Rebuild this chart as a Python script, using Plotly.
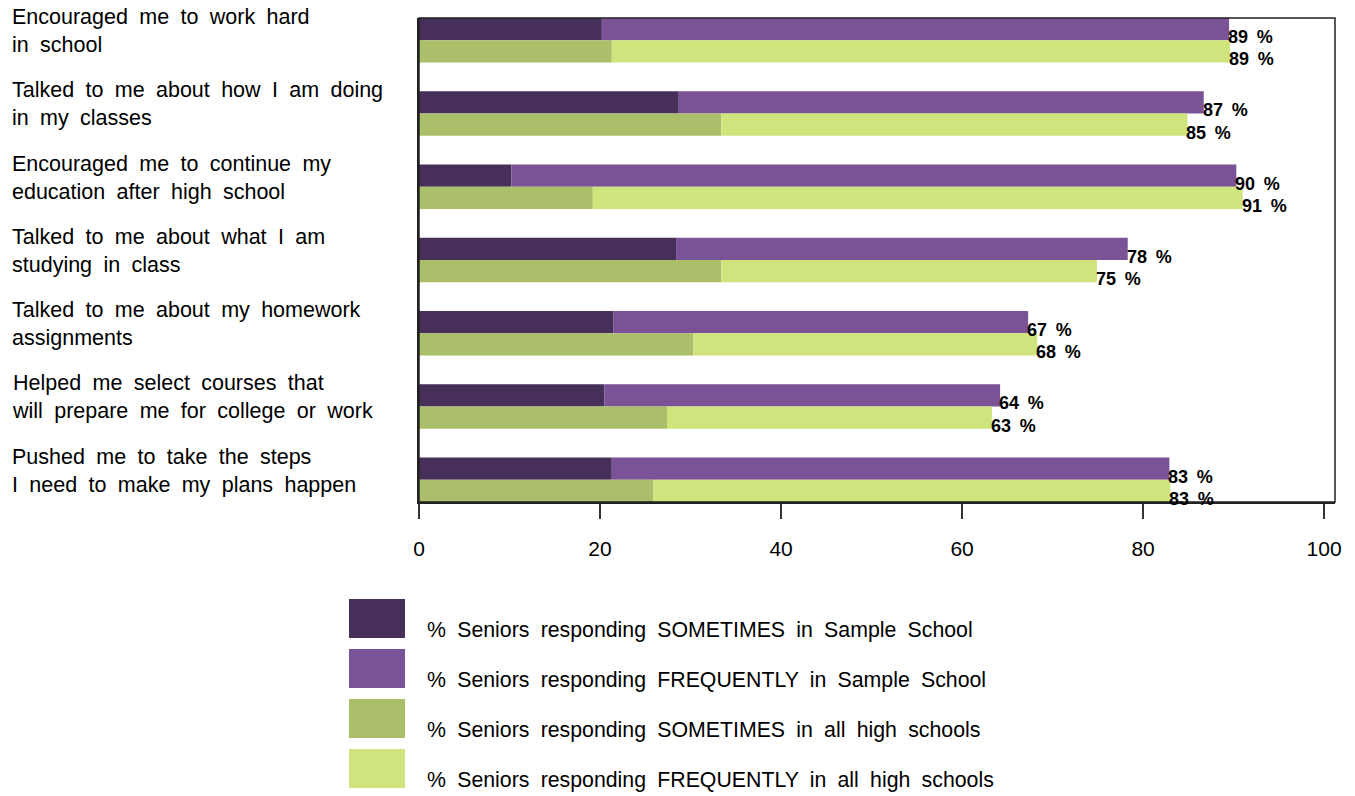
import plotly.graph_objects as go

categories = [
    "Encouraged me to work hard<br>in school",
    "Talked to me about how I am doing<br>in my classes",
    "Encouraged me to continue my<br>education after high school",
    "Talked to me about what I am<br>studying in class",
    "Talked to me about my homework<br>assignments",
    "Helped me select courses that<br>will prepare me for college or work",
    "Pushed me to take the steps<br>I need to make my plans happen",
]
sample_sometimes = [20.2, 28.7, 10.2, 28.4, 21.5, 20.5, 21.3]
sample_total = [89.5, 86.7, 90.3, 78.3, 67.3, 64.2, 82.9]
all_sometimes = [21.3, 33.4, 19.2, 33.4, 30.3, 27.4, 25.9]
all_total = [89.6, 84.9, 91.0, 74.9, 68.3, 63.3, 83.0]
sample_labels = ["89", "87", "90", "78", "67", "64", "83"]
all_labels = ["89", "85", "91", "75", "68", "63", "83"]
series_names = [
    "% Seniors responding SOMETIMES in Sample School",
    "% Seniors responding FREQUENTLY in Sample School",
    "% Seniors responding SOMETIMES in all high schools",
    "% Seniors responding FREQUENTLY in all high schools",
]
colors = ["#46305a", "#7a5396", "#abbe69", "#cfe47c"]

FONT = "Liberation Sans, Arial, Helvetica, sans-serif"
W, H = 1355, 796
L, R, T, B = 419, 1335, 18, 502
P = 3.3  # group pitch in bar-width units

def wide(s):
    return s.replace(" ", " \u2005")

y_sample = [-i * P for i in range(len(categories))]
y_all = [-i * P - 1 for i in range(len(categories))]
sample_freq = [t - s for t, s in zip(sample_total, sample_sometimes)]
all_freq = [t - s for t, s in zip(all_total, all_sometimes)]

fig = go.Figure()
fig.add_trace(go.Bar(x=sample_sometimes, y=y_sample, orientation="h", width=1,
                     marker=dict(color=colors[0], line_width=0), name=series_names[0]))
fig.add_trace(go.Bar(x=sample_freq, y=y_sample, base=sample_sometimes, orientation="h", width=1,
                     marker=dict(color=colors[1], line_width=0), name=series_names[1]))
fig.add_trace(go.Bar(x=all_sometimes, y=y_all, orientation="h", width=1,
                     marker=dict(color=colors[2], line_width=0), name=series_names[2]))
fig.add_trace(go.Bar(x=all_freq, y=y_all, base=all_sometimes, orientation="h", width=1,
                     marker=dict(color=colors[3], line_width=0), name=series_names[3]))

annotations = []
for i, cat in enumerate(categories):
    annotations.append(dict(
        text=wide(cat), xref="paper", yref="y", x=(10 - L) / (R - L), y=y_sample[i],
        xanchor="left", yanchor="middle", align="left", showarrow=False, yshift=-2,
        font=dict(family=FONT, size=21.5, color="black")))
    annotations.append(dict(
        text=sample_labels[i] + " \u2009%", xref="x", yref="y", x=sample_total[i], y=y_sample[i],
        xanchor="left", yanchor="middle", showarrow=False, xshift=-3, yshift=-8,
        font=dict(family=FONT, size=18, color="black", weight="bold")))
    annotations.append(dict(
        text=all_labels[i] + " \u2009%", xref="x", yref="y", x=all_total[i], y=y_all[i],
        xanchor="left", yanchor="middle", showarrow=False, xshift=-3, yshift=-8,
        font=dict(family=FONT, size=18, color="black", weight="bold")))

pw, ph = R - L, B - T
def px_x(px):
    return (px - L) / pw
def px_y(py):
    return (B - py) / ph

shapes = [dict(type="rect", xref="paper", yref="paper", x0=0, x1=1, y0=0, y1=1,
               line=dict(color="#222", width=1.5), fillcolor="rgba(0,0,0,0)")]
for k, name in enumerate(series_names):
    top = 599 + 50 * k
    shapes.append(dict(type="rect", xref="paper", yref="paper",
                       x0=px_x(349), x1=px_x(405), y0=px_y(top + 39), y1=px_y(top),
                       line=dict(width=0), fillcolor=colors[k]))
    annotations.append(dict(
        text=wide(name), xref="paper", yref="paper", x=px_x(425), y=px_y(top + 31),
        xanchor="left", yanchor="middle", showarrow=False,
        font=dict(family=FONT, size=21.3, color="black")))

n = len(categories)
fig.update_layout(
    width=W, height=H, barmode="overlay", showlegend=False,
    margin=dict(l=L, r=W - R, t=T, b=H - B, autoexpand=False),
    plot_bgcolor="white", paper_bgcolor="white",
    font=dict(family=FONT, color="black"),
    xaxis=dict(range=[0, 101.2], tickvals=[0, 20, 40, 60, 80, 100], ticks="outside",
               ticklen=15, tickwidth=2, tickcolor="#333", showgrid=False, zeroline=False,
               showline=True, linewidth=2, linecolor="#222", ticklabelstandoff=12,
               tickfont=dict(size=21, family=FONT, color="black")),
    yaxis=dict(range=[-(n - 1) * P - 1.5, 0.5], showticklabels=False, ticks="",
               showgrid=False, zeroline=False, showline=True, linewidth=2, linecolor="#222"),
    annotations=annotations, shapes=shapes,
)
fig.write_html("out.html", config={"displayModeBar": False},
               post_script="document.body.style.margin='0';document.body.style.overflow='hidden';")
